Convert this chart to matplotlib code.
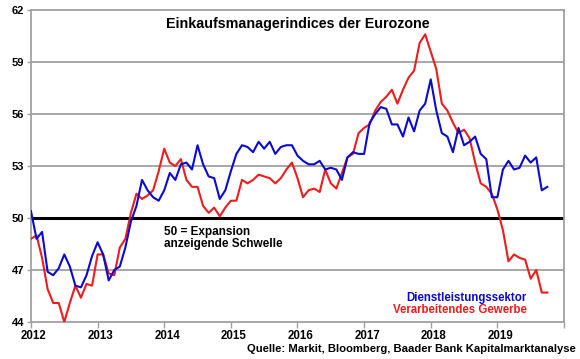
import numpy as np
import matplotlib.pyplot as plt
from matplotlib.transforms import offset_copy

plt.rcParams['font.family'] = ['Liberation Sans', 'DejaVu Sans']

# monthly PMI values, Jan 2012 - Oct 2019
dienstleistung = [
    50.4, 48.8, 49.2, 46.9, 46.7, 47.1, 47.9, 47.2, 46.1, 46.0, 46.7, 47.8,  # 2012
    48.6, 47.9, 46.4, 47.0, 47.2, 48.3, 49.8, 50.7, 52.2, 51.6, 51.2, 51.0,  # 2013
    51.6, 52.6, 52.2, 53.1, 53.2, 52.8, 54.2, 53.1, 52.4, 52.3, 51.1, 51.6,  # 2014
    52.7, 53.7, 54.2, 54.1, 53.8, 54.4, 54.0, 54.4, 53.7, 54.1, 54.2, 54.2,  # 2015
    53.6, 53.3, 53.1, 53.1, 53.3, 52.8, 52.9, 52.8, 52.2, 53.5, 53.8, 53.7,  # 2016
    53.7, 55.5, 56.0, 56.4, 56.3, 55.4, 55.4, 54.7, 55.8, 55.0, 56.2, 56.6,  # 2017
    58.0, 56.2, 54.9, 54.7, 53.8, 55.2, 54.2, 54.4, 54.7, 53.7, 53.4, 51.2,  # 2018
    51.2, 52.8, 53.3, 52.8, 52.9, 53.6, 53.2, 53.5, 51.6, 51.8,              # 2019
]
verarbeitend = [
    48.8, 49.0, 47.7, 45.9, 45.1, 45.1, 44.0, 45.1, 46.1, 45.4, 46.2, 46.1,  # 2012
    47.9, 47.9, 46.8, 46.7, 48.3, 48.8, 50.3, 51.4, 51.1, 51.3, 51.6, 52.7,  # 2013
    54.0, 53.2, 53.0, 53.4, 52.2, 51.8, 51.8, 50.7, 50.3, 50.6, 50.1, 50.6,  # 2014
    51.0, 51.0, 52.2, 52.0, 52.2, 52.5, 52.4, 52.3, 52.0, 52.3, 52.8, 53.2,  # 2015
    52.3, 51.2, 51.6, 51.7, 51.5, 52.8, 52.0, 51.7, 52.6, 53.5, 53.7, 54.9,  # 2016
    55.2, 55.4, 56.2, 56.7, 57.0, 57.4, 56.6, 57.4, 58.1, 58.5, 60.1, 60.6,  # 2017
    59.6, 58.6, 56.6, 56.2, 55.5, 54.9, 55.1, 54.6, 53.2, 52.0, 51.8, 51.4,  # 2018
    50.5, 49.3, 47.5, 47.9, 47.7, 47.6, 46.5, 47.0, 45.7, 45.7,              # 2019
]
jahre = [2012, 2013, 2014, 2015, 2016, 2017, 2018, 2019]
y_ticks = [44, 47, 50, 53, 56, 59, 62]

x = 2012 + np.arange(len(dienstleistung)) / 12

fig = plt.figure(figsize=(5.8, 3.59), dpi=100)
ax = fig.add_axes([0.0534, 0.103, 0.9190, 0.869])

grid_col = '#a0a0a0'
for v in [47, 53, 56, 59]:
    ax.axhline(v, color=grid_col, lw=1.3, zorder=1)
ax.axhline(50, color='black', lw=2.2, zorder=2)

ax.plot(x, verarbeitend, color='#ee1c1c', lw=1.5, zorder=3)
ax.plot(x, dienstleistung, color='#0a0ad0', lw=1.5, zorder=4)

ax.set_xlim(2012, 2020)
ax.set_ylim(44, 62)
ax.set_yticks(y_ticks)
ax.set_yticklabels([str(v) for v in y_ticks], fontsize=8, fontweight='bold')
ax.set_xticks(jahre + [2020])
ax.set_xticklabels([str(j) for j in jahre] + [''], fontsize=8.3, fontweight='bold')
ax.tick_params(axis='y', length=3, width=1, color=grid_col, pad=2)
ax.tick_params(axis='x', length=4, width=1, color=grid_col, pad=2)
# year labels sit a little right of their tick
for lab in ax.get_xticklabels():
    lab.set_transform(offset_copy(lab.get_transform(), fig=fig, x=3, y=0, units='dots'))

for s in ax.spines.values():
    s.set_color(grid_col)
    s.set_linewidth(1.3)

ax.text(0.5, 0.955, 'Einkaufsmanagerindices der Eurozone', transform=ax.transAxes,
        ha='center', va='center', fontsize=10.3, fontweight='bold')
ax.text(2014.0, 49.55, '50 = Expansion\nanzeigende Schwelle', ha='left', va='top',
        fontsize=8.5, fontweight='bold', linespacing=1.0)
ax.text(2019.44, 45.38, 'Dienstleistungssektor', ha='right', va='center',
        fontsize=8.3, fontweight='bold', color='#0a0ad0')
ax.text(2019.44, 44.68, 'Verarbeitendes Gewerbe', ha='right', va='center',
        fontsize=8.3, fontweight='bold', color='#ee1c1c')

fig.text(576 / 580, 1 - 349 / 359, 'Quelle: Markit, Bloomberg, Baader Bank Kapitalmarktanalyse',
         ha='right', va='center', fontsize=8.1, fontweight='bold')

fig.savefig('out.png', dpi=100)
